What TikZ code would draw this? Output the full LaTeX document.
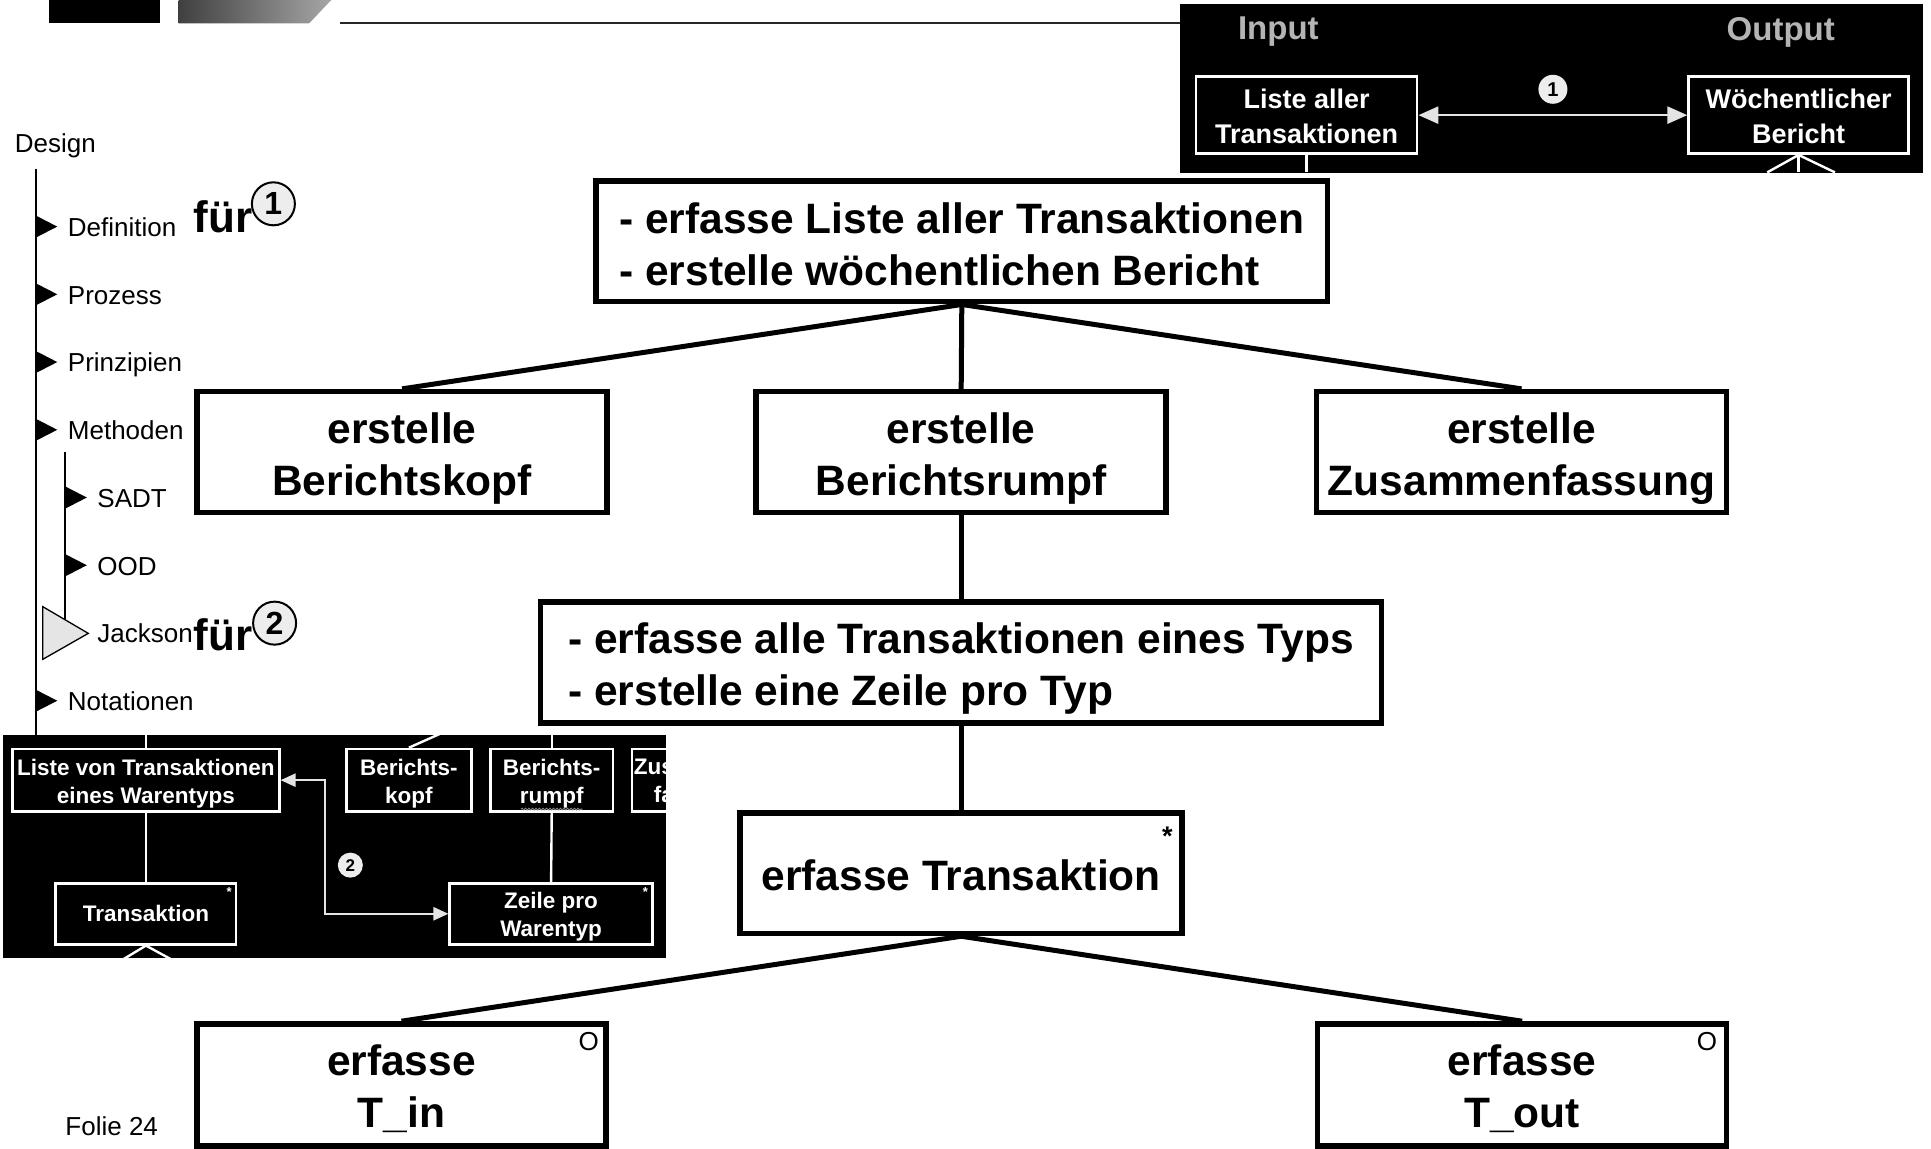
\documentclass[tikz,border=0pt]{standalone}
\usepackage{fontspec}
\setmainfont{Liberation Sans}
\usetikzlibrary{arrows.meta,decorations.pathmorphing,calc}
\definecolor{arrowgray}{HTML}{E4E4E4}
\definecolor{labelgray}{HTML}{B4B4B4}
\definecolor{circfill}{HTML}{EDEDED}
\newcommand\bigb{\fontsize{42.5pt}{52pt}\selectfont\bfseries}
\newcommand\menuf{\fontsize{26pt}{31pt}\selectfont}
\newcommand\fuerf{\fontsize{44pt}{50pt}\selectfont\bfseries}
\newcommand\circf{\fontsize{32pt}{36pt}\selectfont\bfseries}
\newcommand\scrtopf{\fontsize{27pt}{34.5pt}\selectfont\bfseries}
\newcommand\scrbotf{\fontsize{22.5pt}{28pt}\selectfont\bfseries}
\newcommand\labf{\fontsize{33pt}{38pt}\selectfont\bfseries}
\begin{document}
\begin{tikzpicture}[x=1.2315pt,y=-1.2315pt,
  mainbox/.style={draw=black, line width=5.5pt, inner sep=0pt, minimum height=120.7pt},
  boxtxt/.style={inner sep=0pt, align=center, font=\bigb},
  conn/.style={line width=5pt},
  menuline/.style={line width=2pt},
  menut/.style={font=\menuf, anchor=base west, inner sep=0pt},
  fuer/.style={font=\fuerf, anchor=base west, inner sep=0pt},
  circnum/.style={circle, draw=black, line width=2pt, fill=circfill, inner sep=0pt, minimum size=43pt, font=\circf},
  shot/.style={fill=black, inner sep=0pt, anchor=north west},
  scrtop/.style={draw=white, line width=2.6pt, inner sep=0pt, minimum height=77pt},
  scrbot/.style={draw=white, line width=2.6pt, inner sep=0pt},
  scrtoptxt/.style={text=white, font=\scrtopf, align=center, inner sep=0pt},
  scrbottxt/.style={text=white, font=\scrbotf, align=center, inner sep=0pt},
  scrline/.style={draw=white, line width=2.4pt},
  scrarrow/.style={draw=arrowgray, line width=2.7pt, arrows={Triangle[length=20pt,width=17pt,fill=arrowgray]-Triangle[length=20pt,width=17pt,fill=arrowgray]}},
  scrarrowsm/.style={draw=arrowgray, line width=2.4pt, arrows={Triangle[length=15pt,width=13pt,fill=arrowgray]-Triangle[length=15pt,width=13pt,fill=arrowgray]}},
  numc/.style={circle, fill=circfill, inner sep=0pt, minimum size=#1, font=\bfseries\fontsize{20pt}{21pt}\selectfont, text=black},
  lab/.style={font=\labf, text=labelgray, inner sep=0pt}
]
\useasboundingbox (0,0) rectangle (1568,933);

% --- header decoration ---
\fill[black] (40,0) rectangle (130,19);
\shade[left color=black!75, right color=black!35] (145,0) -- (269,0) -- (251,19) -- (145,19) -- cycle;
\coordinate (hl1) at (276,18.4);
\coordinate (hl2) at (958,18.4);
\draw[line width=2pt, black!85] (hl1) -- (hl2);

% --- left menu ---
\node[menut] (design) at (12,124) {Design};
\coordinate (mtop) at (29,137);
\coordinate (mbot) at (29,597);
\draw[menuline] (mtop) -- (mbot);
\coordinate (stop) at (53,367);
\coordinate (sbot) at (53,503);
\draw[menuline] (stop) -- (sbot);
\foreach \yy in {184,239,294,349,569} {
  \fill[black] (29,\yy-9) -- (46.5,\yy) -- (29,\yy+9) -- cycle;
}
\foreach \yy in {404,459} {
  \fill[black] (53,\yy-9) -- (70.5,\yy) -- (53,\yy+9) -- cycle;
}
\filldraw[fill=black!10, draw=black, line width=1.3pt] (34.7,492.6) -- (71.7,514.3) -- (34.7,535.4) -- cycle;
\node[menut] (def) at (55,192) {Definition};
\node[menut] (proz) at (55,247) {Prozess};
\node[menut] (prin) at (55,302) {Prinzipien};
\node[menut] (meth) at (55,357) {Methoden};
\node[menut] (sadt) at (79,412) {SADT};
\node[menut] (ood) at (79,467) {OOD};
\node[menut] (jack) at (79,522) {Jackson};
\node[menut] (nota) at (55,577) {Notationen};
\node[menut] (folie) at (53,922) {Folie 24};

\node[fuer] (f1) at (157,189) {für};
\node[circnum] (c1) at (222,165.5) {1};
\node[fuer] (f2) at (157,528) {für};
\node[circnum] (c2) at (223,506) {2};

% --- top-right screenshot ---
\node[shot, minimum width=742.6pt, minimum height=168.7pt] (scr1) at (958,3) {};
\node[lab] (inlab) at (1038,26) {Input};
\node[lab] (outlab) at (1446,26) {Output};
\node[scrtop, minimum width=221pt] (liste) at (1061,93.5) {};
\node[scrtoptxt] (listeT) at (1061,94.5) {Liste aller\\Transaktionen};
\node[scrtop, minimum width=220pt] (woch) at (1460.5,93.5) {};
\node[scrtoptxt] (wochT) at (1460.5,94.5) {Wöchentlicher\\Bericht};
\draw[scrarrow] (liste.east) -- (woch.west);
\node[numc=29pt] (n1) at (1261,72.5) {1};
\coordinate (l1) at (1061,140);
\draw[scrline] (liste.south) -- (l1);
\coordinate (w1) at (1435,140);
\coordinate (w2) at (1490,140);
\coordinate (w3) at (1460.5,140);
\draw[scrline] (w1) -- (woch.south) -- (w2);
\draw[scrline] (woch.south) -- (w3);

% --- bottom-left screenshot ---
\node[shot, minimum width=663.8pt, minimum height=222.9pt] (scr2) at (2,597) {};
\begin{scope}
\clip (2,597) rectangle (541,778);
\node[scrbot, minimum width=266.7pt, minimum height=62.3pt] (liste2) at (118.5,633.5) {};
\node[scrbottxt] (liste2T) at (118.5,636) {Liste von Transaktionen\\eines Warentyps};
\node[scrbot, minimum width=180.5pt, minimum height=61pt] (trans2) at (118.5,742) {};
\node[scrbottxt] (trans2T) at (118.5,742) {Transaktion};
\node[scrbot, minimum width=125pt, minimum height=62.3pt] (kopf2) at (332,633.5) {};
\node[scrbottxt] (kopf2T) at (332,636) {Berichts-\\kopf};
\node[scrbot, minimum width=122.6pt, minimum height=62.3pt] (rumpf2) at (448,633.5) {};
\node[scrbottxt] (rumpf2T) at (448,636) {Berichts-\\rumpf};
\node[scrbot, minimum width=130pt, minimum height=62.3pt] (zus2) at (566,633.5) {};
\node[scrbottxt] (zus2T) at (566,636) {Zusammen-\\fassung};
\node[scrbot, minimum width=202.7pt, minimum height=61pt] (zeile2) at (447.5,742) {};
\node[scrbottxt] (zeile2T) at (447.5,744) {Zeile pro\\Warentyp};
\node[text=white, font=\bfseries\fontsize{13pt}{14pt}\selectfont, inner sep=0pt] (st1) at (186,724) {*};
\node[text=white, font=\bfseries\fontsize{13pt}{14pt}\selectfont, inner sep=0pt] (st2) at (524,724) {*};
\draw[black!45, line width=0.9pt, decorate, decoration={snake, amplitude=0.9pt, segment length=3.5pt}] (423,657) -- (473,657);
\coordinate (b1) at (118.5,597);
\draw[scrline] (liste2.north) -- (b1);
\draw[scrline] (liste2.south) -- (trans2.north);
\coordinate (b2) at (100,779);
\coordinate (b3) at (139,779);
\draw[scrline] (b2) -- (trans2.south) -- (b3);
\coordinate (b4) at (357,596);
\draw[scrline] (kopf2.north) -- (b4);
\coordinate (b5) at (448,597);
\draw[scrline] (rumpf2.north) -- (b5);
\draw[scrline] (rumpf2.south) -- (zeile2.north);
\coordinate (bend) at (264,700);
\draw[scrarrowsm] (liste2.east) -- (liste2.east -| bend) |- (zeile2.west);
\node[numc=25pt, font=\bfseries\fontsize{17pt}{18pt}\selectfont] (n2) at (284.5,702.5) {2};
\end{scope}

% --- main Jackson diagram ---
\node[mainbox, minimum width=731.5pt] (top) at (781,196) {};
\node[boxtxt, align=left] (topT) at (781,198) {- erfasse Liste aller Transaktionen\\- erstelle wöchentlichen Bericht};
\node[mainbox, minimum width=410pt] (kopf) at (326.5,367) {};
\node[boxtxt] (kopfT) at (326.5,372) {erstelle\\Berichtskopf};
\node[mainbox, minimum width=410pt] (rumpf) at (780.5,367) {};
\node[boxtxt] (rumpfT) at (780.5,372) {erstelle\\Berichtsrumpf};
\node[mainbox, minimum width=410pt] (zus) at (1235.5,367) {};
\node[boxtxt] (zusT) at (1235.5,372) {erstelle\\Zusammenfassung};
\node[mainbox, minimum width=841pt] (typ) at (780.5,538) {};
\node[boxtxt, align=left] (typT) at (780.5,543) {- erfasse alle Transaktionen eines Typs\\- erstelle eine Zeile pro Typ};
\node[mainbox, minimum width=442pt] (trans) at (780.5,709) {};
\node[boxtxt] (transT) at (780.5,711) {erfasse Transaktion};
\node[mainbox, minimum width=409pt, minimum height=122pt] (tin) at (326,881) {};
\node[boxtxt] (tinT) at (326,884) {erfasse\\T\_in};
\node[mainbox, minimum width=409pt, minimum height=122pt] (tout) at (1236,881) {};
\node[boxtxt] (toutT) at (1236,884) {erfasse\\T\_out};

\node[font=\bfseries\fontsize{27pt}{30pt}\selectfont, inner sep=0pt] (star) at (948,679) {*};
\node[font=\fontsize{26pt}{30pt}\selectfont, inner sep=0pt] (o1) at (478,846) {O};
\node[font=\fontsize{26pt}{30pt}\selectfont, inner sep=0pt] (o2) at (1386,846) {O};

\draw[conn] (top.south) -- (kopf.north);
\draw[conn] (top.south) -- (rumpf.north);
\draw[conn] (top.south) -- (zus.north);
\draw[conn] (rumpf.south) -- (typ.north);
\draw[conn] (typ.south) -- (trans.north);
\draw[conn] (trans.south) -- (tin.north);
\draw[conn] (trans.south) -- (tout.north);
\end{tikzpicture}
\end{document}
